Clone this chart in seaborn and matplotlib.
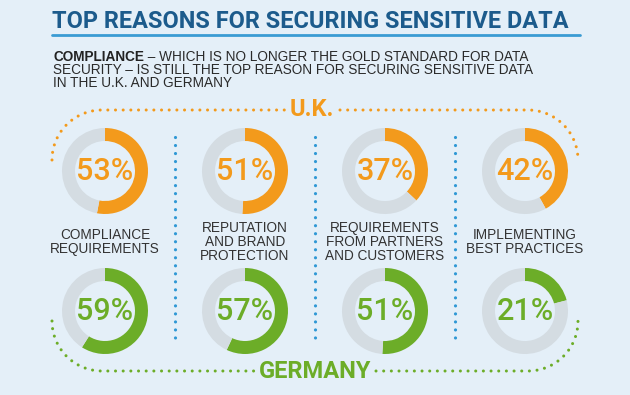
import matplotlib
matplotlib.use("Agg")
import matplotlib.pyplot as plt
import seaborn as sns
import numpy as np

# canvas size in pixels (axes use pixel units, y measured from the top)
W, H = 630, 395

title = "TOP REASONS FOR SECURING SENSITIVE DATA"
lead_bold = "COMPLIANCE"
lead_lines = [
    " \u2013 WHICH IS NO LONGER THE GOLD STANDARD FOR DATA",
    "SECURITY \u2013 IS STILL THE TOP REASON FOR SECURING SENSITIVE DATA",
    "IN THE U.K. AND GERMANY",
]
reasons = [
    "COMPLIANCE\nREQUIREMENTS",
    "REPUTATION\nAND BRAND\nPROTECTION",
    "REQUIREMENTS\nFROM PARTNERS\nAND CUSTOMERS",
    "IMPLEMENTING\nBEST PRACTICES",
]
uk_pct = [53, 51, 37, 42]
de_pct = [59, 57, 51, 21]
countries = ["U.K.", "GERMANY"]

bg = "#e4eff8"
orange = "#f39a1c"
green = "#6cad28"
ring = "#d4dce2"
navy = "#1c5b8c"
blue = "#2f98d5"

sns.set_theme(style="white", rc={"figure.facecolor": bg, "axes.facecolor": bg})
head = "Roboto"
body = "Liberation Sans"

fig = plt.figure(figsize=(W / 100, H / 100), dpi=100)
ax = fig.add_axes([0, 0, 1, 1])


def Y(y):
    return H - np.asarray(y)


def dotted(xs, ys, color, lw=2.2):
    ax.plot(xs, Y(ys), color=color, lw=lw, ls=(0, (0.01, 2.5)),
            dash_capstyle="round", solid_capstyle="round")


def arc(cx, cy, r, t0, t1, n=40):
    t = np.linspace(t0, t1, n)
    return cx + r * np.cos(t), cy - r * np.sin(t)


# title + underline
ax.text(52, Y(28), title, family=head, weight="bold", size=16.9, color=navy, va="baseline")
ax.plot([52, 580], Y([35, 35]), color="#3a9bd3", lw=2)

# lead paragraph
b = ax.text(53, Y(61), lead_bold, family=body, weight="bold", size=9.8, color="#222222", va="baseline")
ax.annotate(lead_lines[0], xy=(1, 0), xycoords=b, va="bottom", ha="left",
            family=body, size=9.8, color="#2a2a2a")
for i, line in enumerate(lead_lines[1:]):
    ax.text(53, Y(74 + 13 * i), line, family=body, size=9.8, color="#2a2a2a", va="baseline")

# donuts
cxs = [105 + 140 * i for i in range(len(reasons))]
rows = [(uk_pct, orange, 171), (de_pct, green, 311)]
for vals, col, cy in rows:
    for cx, v in zip(cxs, vals):
        ax.pie([v, 100 - v], colors=[col, ring], startangle=90, counterclock=False,
               radius=43, center=(cx, Y(cy)), frame=True,
               wedgeprops=dict(width=13, linewidth=0))
        ax.text(cx, Y(cy), f"{v}%", family=head, weight="medium", size=22,
                color=col, ha="center", va="center")

for cx, lab in zip(cxs, reasons):
    ax.text(cx, Y(242), lab, family=body, size=9.8, color="#333333",
            ha="center", va="center", linespacing=0.98)

# blue separators
for x in [175, 315, 455]:
    dotted([x, x], [137, 340], blue, lw=2.3)

# U.K. bracket
ax.text(312, Y(110), countries[0], family=head, weight="bold", size=17,
        color=orange, ha="center", va="center")
xs, ys = arc(102, 160, 50, np.pi, np.pi / 2)
dotted(np.r_[xs, 286], np.r_[ys, 110], orange)
xs, ys = arc(528, 160, 50, np.pi / 2, 0)
dotted(np.r_[340, xs], np.r_[110, ys], orange)

# GERMANY bracket
ax.text(315, Y(371), countries[1], family=head, weight="bold", size=17,
        color=green, ha="center", va="center")
xs, ys = arc(102, 321, 50, np.pi, 1.5 * np.pi)
dotted(np.r_[xs, 256], np.r_[ys, 371], green)
xs, ys = arc(528, 321, 50, 1.5 * np.pi, 2 * np.pi)
dotted(np.r_[376, xs], np.r_[371, ys], green)

ax.set_xlim(0, W)
ax.set_ylim(0, H)
ax.axis("off")

fig.savefig("out.png", dpi=100, facecolor=bg)
